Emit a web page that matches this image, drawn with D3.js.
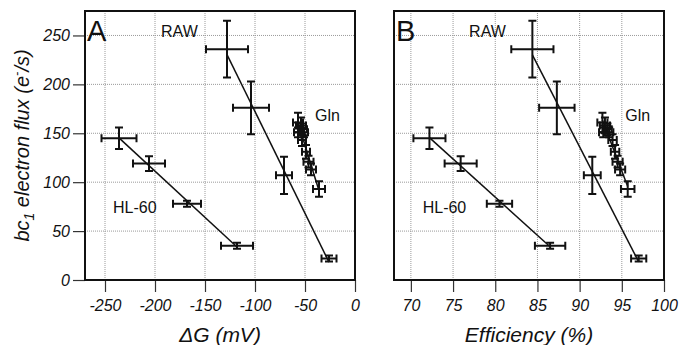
<!DOCTYPE html>
<html>
<head>
<meta charset="utf-8">
<script src="https://cdn.jsdelivr.net/npm/d3@7"></script>
<style>
  body { margin: 0; background: #fff; }
  text { font-family: "Liberation Sans", Arial, sans-serif; fill: #111; }
</style>
</head>
<body>
<div id="chart"></div>
<script>
// Tick labels
var fluxTicks = [0, 50, 100, 150, 200, 250];
var dgTicks = [-250, -200, -150, -100, -50, 0];
var effTicks = [70, 75, 80, 85, 90, 95, 100];

// HL-60 series
var hl60Flux = [145, 119, 78, 35];
var hl60FluxErr = [11, 7.5, 3, 3];
var hl60DG = [-236, -206, -168, -118];
var hl60DGErr = [17.5, 16, 14, 16];
var hl60Eff = [72.2, 75.9, 80.5, 86.5];
var hl60EffErr = [1.9, 1.9, 1.5, 1.8];

// RAW series
var rawFlux = [236, 176, 107, 22];
var rawFluxErr = [29, 27, 19, 3];
var rawDG = [-128, -104, -71, -26];
var rawDGErr = [21, 18, 8, 7.5];
var rawEff = [84.4, 87.3, 91.5, 97.0];
var rawEffErr = [2.5, 2.1, 1.0, 0.9];

// Gln series
var glnFlux = [161, 158, 154, 151, 151, 143, 131, 121, 113, 93];
var glnFluxErr = [10, 8, 6, 5, 5, 6, 7, 6, 6, 8];
var glnDG = [-57, -54, -52, -57, -51, -53, -49, -46.5, -44, -36];
var glnDGErr = [5, 5, 4, 4, 4, 4, 4, 5, 5, 6];
var glnEff = [92.7, 93.0, 93.3, 92.8, 93.5, 93.9, 94.2, 94.5, 94.8, 95.7];
var glnEffErr = [0.6, 0.6, 0.5, 0.5, 0.5, 0.5, 0.5, 0.6, 0.6, 0.8];

// Label anchors (data coordinates)
var labelNames = ["RAW", "Gln", "HL-60"];
var labelFlux = [248, 163, 69];
var labelDG = [-194, -40, -242];
var labelEff = [76.9, 95.4, 71.4];

var width = 680, height = 345;
var plotTop = 11, plotBottom = 280;

var svg = d3.select("#chart").append("svg")
  .attr("width", width)
  .attr("height", height);

var yScale = d3.scaleLinear().domain([0, 275]).range([plotBottom, plotTop]);

function zip(xs, xe, ys, ye) {
  return xs.map(function(x, i) { return { x: x, xe: xe[i], y: ys[i], ye: ye[i] }; });
}

// least squares fit
function fit(pts) {
  var mx = d3.mean(pts, function(d) { return d.x; });
  var my = d3.mean(pts, function(d) { return d.y; });
  var sxy = d3.sum(pts, function(d) { return (d.x - mx) * (d.y - my); });
  var sxx = d3.sum(pts, function(d) { return (d.x - mx) * (d.x - mx); });
  var b = sxy / sxx;
  var x0 = pts[0].x, x1 = pts[pts.length - 1].x;
  return [[x0, my + b * (x0 - mx)], [x1, my + b * (x1 - mx)]];
}

function drawPanel(cfg) {
  var x = cfg.x;
  var g = svg.append("g");
  var x0 = x.range()[0], x1 = x.range()[1];

  // grid
  g.selectAll(".vgrid").data(cfg.ticks.filter(function(t) {
      return x(t) > x0 + 1 && x(t) < x1 - 1;
    })).enter().append("line")
    .attr("x1", function(d) { return x(d); })
    .attr("x2", function(d) { return x(d); })
    .attr("y1", plotTop).attr("y2", plotBottom)
    .attr("stroke", "#9a9a9a").attr("stroke-width", 1)
    .attr("stroke-dasharray", "1,1");
  g.selectAll(".hgrid").data(fluxTicks.filter(function(t) { return t > 0; }))
    .enter().append("line")
    .attr("x1", x0).attr("x2", x1)
    .attr("y1", function(d) { return yScale(d); })
    .attr("y2", function(d) { return yScale(d); })
    .attr("stroke", "#9a9a9a").attr("stroke-width", 1)
    .attr("stroke-dasharray", "1,1");

  // bottom axis
  var xAxis = g.append("g")
    .attr("transform", "translate(0," + plotBottom + ")")
    .call(d3.axisBottom(x).tickValues(cfg.ticks).tickSize(12).tickPadding(8)
      .tickFormat(d3.format("d")));
  xAxis.select(".domain").remove();
  xAxis.selectAll("line").attr("stroke", "#333").attr("stroke-width", 1.2);
  xAxis.selectAll("text")
    .attr("font-size", 16).attr("font-style", "italic")
    .attr("font-family", "Liberation Sans, Arial, sans-serif")
    .attr("fill", "#111")
    .text(function(d) { return d < 0 ? "-" + Math.abs(d) : d; });

  if (cfg.yAxis) {
    var yAxis = g.append("g")
      .attr("transform", "translate(" + x0 + ",0)")
      .call(d3.axisLeft(yScale).tickValues(fluxTicks).tickSize(12).tickPadding(3));
    yAxis.select(".domain").remove();
    yAxis.selectAll("line").attr("stroke", "#333").attr("stroke-width", 1.2);
    yAxis.selectAll("text")
      .attr("font-size", 16).attr("font-style", "italic")
      .attr("font-family", "Liberation Sans, Arial, sans-serif")
      .attr("fill", "#111");
  }

  // series
  cfg.series.forEach(function(pts) {
    var f = fit(pts);
    g.append("line")
      .attr("x1", x(f[0][0])).attr("y1", yScale(f[0][1]))
      .attr("x2", x(f[1][0])).attr("y2", yScale(f[1][1]))
      .attr("stroke", "#111").attr("stroke-width", 1.5);

    var bars = g.selectAll(null).data(pts).enter().append("g")
      .attr("stroke", "#111").attr("stroke-width", 2).attr("fill", "none");
    var cap = 4;
    // vertical error
    bars.append("path").attr("d", function(d) {
      var cx = x(d.x), ya = yScale(d.y + d.ye), yb = yScale(d.y - d.ye);
      return "M" + cx + "," + ya + "V" + yb +
        "M" + (cx - cap) + "," + ya + "H" + (cx + cap) +
        "M" + (cx - cap) + "," + yb + "H" + (cx + cap);
    });
    // horizontal error
    bars.append("path").attr("d", function(d) {
      var cy = yScale(d.y), xa = x(d.x - d.xe), xb = x(d.x + d.xe);
      return "M" + xa + "," + cy + "H" + xb +
        "M" + xa + "," + (cy - cap) + "V" + (cy + cap) +
        "M" + xb + "," + (cy - cap) + "V" + (cy + cap);
    });
  });

  // frame
  g.append("rect")
    .attr("x", x0).attr("y", plotTop)
    .attr("width", x1 - x0).attr("height", plotBottom - plotTop)
    .attr("fill", "none").attr("stroke", "#111").attr("stroke-width", 2);

  // panel letter
  g.append("text")
    .attr("x", x0 + 2).attr("y", plotTop + 30)
    .attr("font-size", 29)
    .text(cfg.letter);

  // series labels
  g.selectAll(".lbl").data(labelNames).enter().append("text")
    .attr("x", function(d, i) { return x(cfg.labelX[i]); })
    .attr("y", function(d, i) { return yScale(labelFlux[i]); })
    .attr("font-size", 16)
    .text(function(d) { return d; });

  // x title
  g.append("text")
    .attr("x", (x0 + x1) / 2).attr("y", 342)
    .attr("text-anchor", "middle")
    .attr("font-size", 21).attr("font-style", "italic")
    .text(cfg.title);
}

drawPanel({
  letter: "A",
  x: d3.scaleLinear().domain([-270, 0]).range([85, 355]),
  ticks: dgTicks,
  yAxis: true,
  title: "\u0394G (mV)",
  labelX: labelDG,
  series: [
    zip(hl60DG, hl60DGErr, hl60Flux, hl60FluxErr),
    zip(rawDG, rawDGErr, rawFlux, rawFluxErr),
    zip(glnDG, glnDGErr, glnFlux, glnFluxErr)
  ]
});

drawPanel({
  letter: "B",
  x: d3.scaleLinear().domain([68, 100]).range([394, 664]),
  ticks: effTicks,
  yAxis: false,
  title: "Efficiency (%)",
  labelX: labelEff,
  series: [
    zip(hl60Eff, hl60EffErr, hl60Flux, hl60FluxErr),
    zip(rawEff, rawEffErr, rawFlux, rawFluxErr),
    zip(glnEff, glnEffErr, glnFlux, glnFluxErr)
  ]
});

// y title
var yt = svg.append("text")
  .attr("transform", "translate(29," + ((plotTop + plotBottom) / 2) + ") rotate(-90)")
  .attr("text-anchor", "middle")
  .attr("font-size", 20).attr("font-style", "italic");
yt.append("tspan").text("bc");
yt.append("tspan").attr("font-size", 14).attr("dy", 5).text("1");
yt.append("tspan").attr("dy", -5).text(" electron flux (e");
yt.append("tspan").attr("font-size", 13).attr("dy", -8).text("-");
yt.append("tspan").attr("dy", 8).text("/s)");
</script>
</body>
</html>
